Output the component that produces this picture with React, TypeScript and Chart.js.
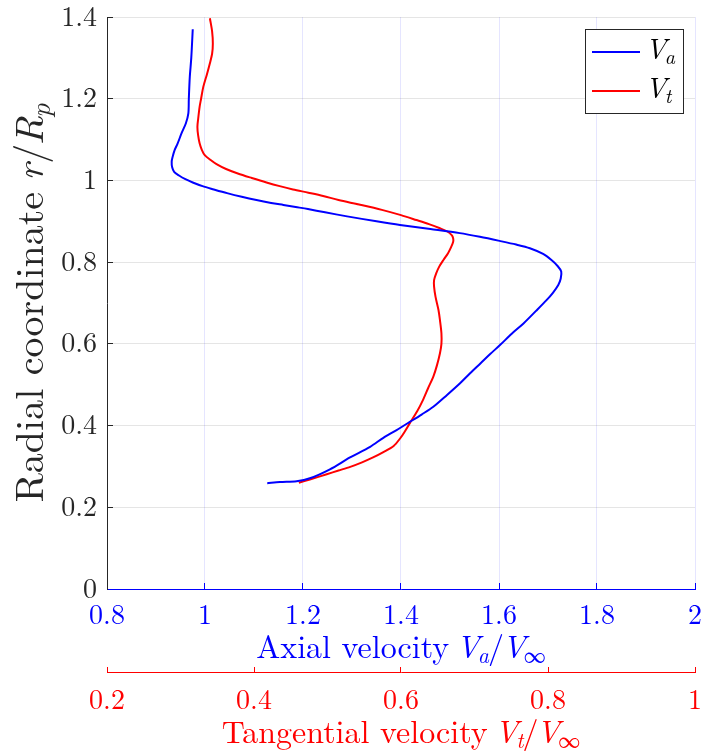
import React, { useEffect, useRef } from "react";
import { Chart, registerables } from "chart.js";

Chart.register(...registerables);

const FONT = '"Latin Modern Roman", "Liberation Serif", serif';

// Axial velocity V_a / V_inf (blue, bottom axis)
const vaRadius = [
  1.37, 1.3, 1.254, 1.2, 1.164, 1.14, 1.115, 1.09, 1.074, 1.058, 1.046, 1.032, 1.021, 1.012,
  1.003, 0.995, 0.986, 0.978, 0.969, 0.96, 0.952, 0.945, 0.94, 0.935, 0.93, 0.922, 0.912, 0.9,
  0.891, 0.881, 0.871, 0.862, 0.852, 0.843, 0.834, 0.82, 0.805, 0.79, 0.777, 0.76, 0.744,
  0.725, 0.707, 0.68, 0.65, 0.625, 0.597, 0.575, 0.552, 0.528, 0.503, 0.475, 0.446, 0.427,
  0.409, 0.389, 0.37, 0.348, 0.322, 0.293, 0.271, 0.264, 0.262, 0.259,
];
const vaValues = [
  0.975, 0.972, 0.969, 0.967, 0.966, 0.961, 0.952, 0.944, 0.938, 0.934, 0.932, 0.933, 0.937,
  0.947, 0.96, 0.975, 0.995, 1.018, 1.045, 1.075, 1.105, 1.135, 1.16, 1.185, 1.21, 1.245, 1.29,
  1.35, 1.398, 1.46, 1.52, 1.561, 1.601, 1.635, 1.663, 1.69, 1.707, 1.72, 1.727, 1.726, 1.721,
  1.71, 1.697, 1.675, 1.65, 1.626, 1.602, 1.582, 1.562, 1.541, 1.52, 1.494, 1.466, 1.442,
  1.418, 1.391, 1.364, 1.337, 1.296, 1.255, 1.214, 1.187, 1.153, 1.127,
];

// Tangential velocity V_t / V_inf (red, second bottom axis)
const vtRadius = [
  1.397, 1.365, 1.335, 1.31, 1.287, 1.26, 1.229, 1.2, 1.18, 1.15, 1.131, 1.11, 1.091, 1.075,
  1.062, 1.05, 1.04, 1.028, 1.017, 1.006, 0.995, 0.986, 0.978, 0.97, 0.962, 0.952, 0.941, 0.928,
  0.915, 0.903, 0.893, 0.883, 0.875, 0.866, 0.858, 0.85, 0.836, 0.822, 0.806, 0.789, 0.773,
  0.756, 0.74, 0.715, 0.683, 0.658, 0.626, 0.6, 0.577, 0.548, 0.52, 0.492, 0.463, 0.435, 0.406,
  0.385, 0.369, 0.35, 0.335, 0.322, 0.31, 0.299, 0.29, 0.281, 0.268, 0.26,
];
const vtValues = [
  0.34, 0.343, 0.344, 0.343, 0.34, 0.336, 0.331, 0.328, 0.326, 0.324, 0.323, 0.324, 0.326,
  0.329, 0.333, 0.341, 0.349, 0.362, 0.378, 0.397, 0.417, 0.435, 0.453, 0.474, 0.494, 0.515,
  0.543, 0.574, 0.6, 0.621, 0.638, 0.653, 0.663, 0.669, 0.671, 0.671, 0.668, 0.664, 0.658,
  0.652, 0.648, 0.645, 0.645, 0.647, 0.651, 0.653, 0.655, 0.655, 0.653, 0.649, 0.644, 0.637,
  0.63, 0.622, 0.612, 0.605, 0.599, 0.59, 0.576, 0.562, 0.547, 0.531, 0.515, 0.499, 0.476, 0.461,
];

const axialRange = [0.8, 2];
const tangentialRange = [0.2, 1];
const radialRange = [0, 1.4];
const tickStep = 0.2;

type Seg = { t: string; it?: boolean; sub?: boolean; dx?: number };

const axialTitle: Seg[] = [
  { t: "Axial velocity " },
  { t: "V", it: true, dx: -0.12 },
  { t: "a", it: true, sub: true, dx: -0.06 },
  { t: "/", dx: -0.03 },
  { t: "V", it: true, dx: -0.07 },
  { t: "\u221E", sub: true, dx: -0.06 },
];
const tangentialTitle: Seg[] = [
  { t: "Tangential velocity " },
  { t: "V", it: true, dx: -0.12 },
  { t: "t", it: true, sub: true, dx: -0.06 },
  { t: "/", dx: -0.03 },
  { t: "V", it: true, dx: -0.07 },
  { t: "\u221E", sub: true, dx: -0.06 },
];
const radialTitle: Seg[] = [
  { t: "Radial coordinate " },
  { t: "r", it: true, dx: -0.05 },
  { t: "/" },
  { t: "R", it: true, dx: -0.04 },
  { t: "p", it: true, sub: true, dx: -0.04 },
];
const legendVa: Seg[] = [{ t: "V", it: true }, { t: "a", it: true, sub: true, dx: -0.06 }];
const legendVt: Seg[] = [{ t: "V", it: true }, { t: "t", it: true, sub: true, dx: -0.06 }];

const BLUE = "#0000ff";
const RED = "#ff0000";
const DARK = "#262626";

function drawRich(
  ctx: CanvasRenderingContext2D,
  segs: Seg[],
  x: number,
  y: number,
  size: number,
  color: string,
  align: "center" | "left" = "center"
) {
  const fontFor = (s: Seg) =>
    `${s.it ? "italic " : ""}${s.sub ? Math.round(size * 0.7) : size}px ${FONT}`;
  let total = 0;
  const widths = segs.map((s) => {
    ctx.font = fontFor(s);
    const w = ctx.measureText(s.t).width + (s.dx || 0) * size;
    total += w;
    return w;
  });
  let cx = align === "center" ? x - total / 2 : x;
  ctx.fillStyle = color;
  ctx.textAlign = "left";
  ctx.textBaseline = "alphabetic";
  segs.forEach((s, i) => {
    ctx.font = fontFor(s);
    ctx.fillText(s.t, cx + (s.dx || 0) * size, y + (s.sub ? size * 0.17 : 0));
    cx += widths[i];
  });
}

const fmt = (v: number | string) => String(parseFloat(Number(v).toFixed(2)));

const annotatePlugin = {
  id: "annotate",
  afterDraw(chart: any) {
    const ctx: CanvasRenderingContext2D = chart.ctx;
    const area = chart.chartArea;
    const xs = chart.scales.x;
    const x2 = chart.scales.x2;
    const ys = chart.scales.y;
    const cx = (area.left + area.right) / 2;
    ctx.save();
    drawRich(ctx, axialTitle, cx, xs.bottom - 14, 32, BLUE);
    drawRich(ctx, tangentialTitle, cx, x2.bottom - 9, 32, RED);
    ctx.save();
    ctx.translate(ys.left + 43, (area.top + area.bottom) / 2);
    ctx.rotate(-Math.PI / 2);
    drawRich(ctx, radialTitle, 0, 0, 40, DARK);
    ctx.restore();

    // legend
    const bx = area.right - 110;
    const by = area.top + 12;
    const bw = 98;
    const bh = 84;
    ctx.fillStyle = "#ffffff";
    ctx.fillRect(bx, by, bw, bh);
    ctx.strokeStyle = DARK;
    ctx.lineWidth = 1;
    ctx.strokeRect(bx + 0.5, by + 0.5, bw, bh);
    const items = [
      { segs: legendVa, color: chart.data.datasets[0].borderColor, y: by + 23 },
      { segs: legendVt, color: chart.data.datasets[1].borderColor, y: by + 62 },
    ];
    items.forEach((it) => {
      ctx.strokeStyle = it.color;
      ctx.lineWidth = 2;
      ctx.beginPath();
      ctx.moveTo(bx + 7, it.y);
      ctx.lineTo(bx + 55, it.y);
      ctx.stroke();
      drawRich(ctx, it.segs, bx + 60, it.y + 7, 29, "#000000", "left");
    });
    ctx.restore();
  },
};

export default function App() {
  const ref = useRef<HTMLCanvasElement | null>(null);
  useEffect(() => {
    let chart: any = null;
    let cancelled = false;
    const build = () => {
      if (cancelled || !ref.current) return;
      const vaPoints = vaRadius.map((r, i) => ({ x: vaValues[i], y: r }));
      const vtPoints = vtRadius.map((r, i) => ({ x: vtValues[i], y: r }));
      const tickFont = { family: FONT, size: 28, lineHeight: 1 };
      chart = new Chart(ref.current, {
        type: "scatter",
        data: {
          datasets: [
            {
              label: "Va",
              data: vaPoints,
              xAxisID: "x",
              yAxisID: "y",
              showLine: true,
              borderColor: BLUE,
              backgroundColor: BLUE,
              borderWidth: 2,
              pointRadius: 0,
              tension: 0.3,
            },
            {
              label: "Vt",
              data: vtPoints,
              xAxisID: "x2",
              yAxisID: "y",
              showLine: true,
              borderColor: RED,
              backgroundColor: RED,
              borderWidth: 2,
              pointRadius: 0,
              tension: 0.3,
            },
          ],
        },
        options: {
          animation: false,
          responsive: false,
          layout: { padding: { left: 0, right: 7, top: 17, bottom: 0 } },
          plugins: { legend: { display: false }, tooltip: { enabled: false } },
          scales: {
            x: {
              type: "linear",
              position: "bottom",
              weight: 0,
              min: axialRange[0],
              max: axialRange[1],
              ticks: {
                stepSize: tickStep,
                color: BLUE,
                font: tickFont,
                padding: 18,
                maxRotation: 0,
                callback: (v: any) => fmt(v),
              },
              grid: {
                color: "rgba(0,0,255,0.1)",
                tickColor: BLUE,
                tickLength: -6,
                drawTicks: true,
              },
              border: { display: true, color: BLUE, width: 1 },
              afterFit: (s: any) => {
                s.height = 83;
                s.paddingLeft = 0;
                s.paddingRight = 0;
              },
            },
            x2: {
              type: "linear",
              axis: "x",
              position: "bottom",
              weight: 1,
              min: tangentialRange[0],
              max: tangentialRange[1],
              ticks: {
                stepSize: tickStep,
                color: RED,
                font: tickFont,
                padding: 19,
                maxRotation: 0,
                callback: (v: any) => fmt(v),
              },
              grid: {
                drawOnChartArea: false,
                tickColor: RED,
                tickLength: -5,
                drawTicks: true,
              },
              border: { display: true, color: RED, width: 1 },
              afterFit: (s: any) => {
                s.height = 80;
                s.paddingLeft = 0;
                s.paddingRight = 0;
              },
            },
            y: {
              type: "linear",
              position: "left",
              min: radialRange[0],
              max: radialRange[1],
              ticks: {
                stepSize: tickStep,
                color: DARK,
                font: tickFont,
                padding: 16,
                callback: (v: any) => fmt(v),
              },
              grid: {
                color: "rgba(38,38,38,0.12)",
                tickColor: DARK,
                tickLength: -6,
                drawTicks: true,
              },
              border: { display: true, color: DARK, width: 1 },
              afterFit: (s: any) => {
                s.width = 107;
                s.paddingTop = 0;
                s.paddingBottom = 0;
              },
            },
          },
        },
        plugins: [annotatePlugin],
      } as any);
    };
    const loads = [
      '28px "Latin Modern Roman"',
      'italic 28px "Latin Modern Roman"',
      '28px "Liberation Serif"',
      'italic 28px "Liberation Serif"',
    ].map((f) => document.fonts.load(f).catch(() => null));
    Promise.all(loads).then(build, build);
    return () => {
      cancelled = true;
      if (chart) chart.destroy();
    };
  }, []);

  return (
    <div style={{ position: "absolute", left: 0, top: 0, width: 702, height: 752, background: "#fff" }}>
      <canvas ref={ref} width={702} height={752} />
    </div>
  );
}
